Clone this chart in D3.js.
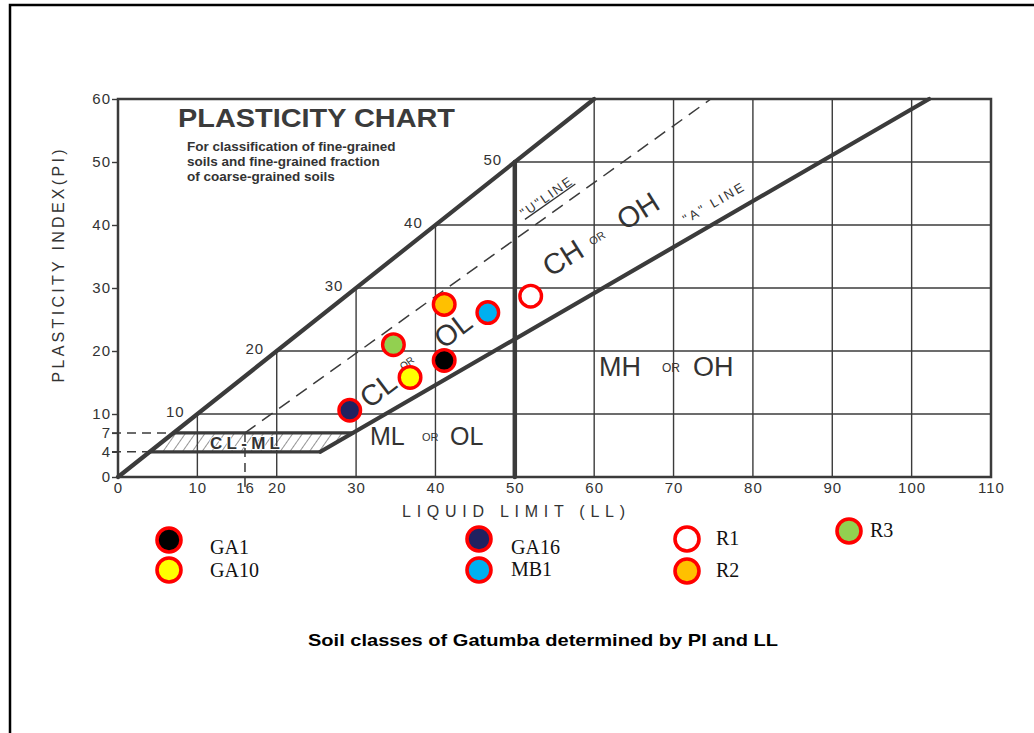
<!DOCTYPE html>
<html>
<head>
<meta charset="utf-8">
<script src="https://cdn.jsdelivr.net/npm/d3@7"></script>
<style>
  body { margin: 0; background: #fff; }
  svg { display: block; }
</style>
</head>
<body>
<svg id="chart" width="1034" height="733"></svg>
<script>
// ---- data ----
const samples = ["GA1", "GA10", "GA16", "MB1", "R1", "R2", "R3"];
const liquidLimit = [41.1, 36.8, 29.2, 46.6, 52.0, 41.1, 34.7];
const plasticityIndex = [18.5, 15.8, 10.6, 26.1, 28.7, 27.4, 21.0];
const sampleFill = ["#000000", "#ffff00", "#212160", "#00b0f0", "#ffffff", "#ffc000", "#92d050"];

const xTicks = [0, 10, 16, 20, 30, 40, 50, 60, 70, 80, 90, 100, 110];
const yTicks = [0, 4, 7, 10, 20, 30, 40, 50, 60];
const gridLL = [10, 20, 30, 40, 50, 60, 70, 80, 90, 100];
const gridPI = [10, 20, 30, 40, 50];
const upperLineMarks = [10, 20, 30, 40, 50];

// classification boundaries (LL, PI)
const upperLine = [[0, 0], [60, 60]];
const aLine = [[25.5, 4], [102.2, 60]];
const uLine = [[16, 7], [74.7, 60]];
const lowLimitLine = [[4, 4], [25.5, 4]];
const clmlTopLine = [[7, 7], [29.6, 7]];
const llDivide = [[50, 0], [50, 50]];
const clmlZone = [[4, 4], [25.5, 4], [29.6, 7], [7, 7]];

// ---- drawing ----
const svg = d3.select("#chart");
const ink = "#3b3b3b";
const textInk = "#333";
const sans = "'Liberation Sans', Arial, sans-serif";

const x = d3.scaleLinear().domain([0, 110]).range([118, 991]);
const y = d3.scaleLinear().domain([0, 60]).range([477, 99]);
const line = d3.line().x(d => x(d[0])).y(d => y(d[1]));

// page frame
svg.append("path")
  .attr("d", "M10,733 L10,5 L1034,5")
  .attr("fill", "none").attr("stroke", "#000").attr("stroke-width", 2.5);

// hatch pattern for the CL-ML band
const defs = svg.append("defs");
defs.append("pattern")
  .attr("id", "hatch").attr("patternUnits", "userSpaceOnUse")
  .attr("width", 8).attr("height", 8)
  .attr("patternTransform", "rotate(35)")
  .append("line").attr("x1", 0).attr("y1", 0).attr("x2", 0).attr("y2", 8)
  .attr("stroke", ink).attr("stroke-width", 1.1);

// grid below the PI = LL limit
const grid = svg.append("g");
grid.selectAll("line.gv").data(gridLL).join("line").attr("class", "gv")
  .attr("x1", d => x(d)).attr("x2", d => x(d))
  .attr("y1", y(0)).attr("y2", d => y(Math.min(d, 60)))
  .attr("stroke", ink).attr("stroke-width", 1.4);
grid.selectAll("line.gh").data(gridPI).join("line").attr("class", "gh")
  .attr("x1", d => x(d)).attr("x2", x(110))
  .attr("y1", d => y(d)).attr("y2", d => y(d))
  .attr("stroke", ink).attr("stroke-width", 1.4);

// plot border
svg.append("rect")
  .attr("x", x(0)).attr("y", y(60))
  .attr("width", x(110) - x(0)).attr("height", y(0) - y(60))
  .attr("fill", "none").attr("stroke", ink).attr("stroke-width", 2.5);

// CL-ML zone
svg.append("path").attr("d", line(clmlZone) + "Z").attr("fill", "url(#hatch)");

// dashed guides at PI 4 and 7, and at LL 16
[4, 7].forEach(v => {
  svg.append("line")
    .attr("x1", x(0) - 6).attr("x2", x(v))
    .attr("y1", y(v)).attr("y2", y(v))
    .attr("stroke", ink).attr("stroke-width", 1.5).attr("stroke-dasharray", "9,6");
});
svg.append("line")
  .attr("x1", x(16)).attr("x2", x(16)).attr("y1", y(0) + 10).attr("y2", y(7))
  .attr("stroke", ink).attr("stroke-width", 1.5).attr("stroke-dasharray", "9,6");

// U line
svg.append("path").attr("d", line(uLine))
  .attr("fill", "none").attr("stroke", ink).attr("stroke-width", 1.5)
  .attr("stroke-dasharray", "13,8");

// heavy boundaries
[[upperLine, 4.2], [aLine, 4.2], [llDivide, 4.5], [lowLimitLine, 3.2], [clmlTopLine, 3.2]]
  .forEach(([pts, w]) => {
    svg.append("path").attr("d", line(pts))
      .attr("fill", "none").attr("stroke", ink).attr("stroke-width", w)
      .attr("stroke-linecap", "round");
  });

// axes
const xAxisG = svg.append("g")
  .attr("transform", `translate(0,${y(0)})`)
  .call(d3.axisBottom(x).tickValues(xTicks).tickSize(0).tickPadding(5));
xAxisG.select(".domain").remove();
xAxisG.attr("font-family", sans).attr("font-size", 15).attr("color", textInk)
  .attr("letter-spacing", 1);

const yAxisG = svg.append("g")
  .attr("transform", `translate(${x(0)},0)`)
  .call(d3.axisLeft(y).tickValues(yTicks).tickSize(6).tickPadding(1));
yAxisG.select(".domain").remove();
yAxisG.attr("font-family", sans).attr("font-size", 15).attr("color", textInk)
  .attr("letter-spacing", 1);
yAxisG.selectAll(".tick line").attr("stroke", ink).attr("stroke-width", 1.4);

// values along the PI = LL limit
svg.append("g").selectAll("text").data(upperLineMarks).join("text")
  .attr("x", d => x(d) - 22).attr("y", d => y(d) - 3)
  .attr("text-anchor", "middle").attr("dominant-baseline", "central")
  .attr("font-family", sans).attr("font-size", 15).attr("letter-spacing", 1)
  .attr("fill", textInk)
  .text(d => d);

// axis titles
svg.append("text")
  .attr("transform", "translate(58,266) rotate(-90)")
  .attr("text-anchor", "middle").attr("dominant-baseline", "central")
  .attr("font-family", sans).attr("font-size", 16).attr("fill", textInk)
  .attr("textLength", 233).attr("lengthAdjust", "spacing")
  .text("PLASTICITY INDEX(PI)");
svg.append("text")
  .attr("x", 402).attr("y", 517)
  .attr("font-family", sans).attr("font-size", 16).attr("fill", textInk)
  .attr("textLength", 223).attr("lengthAdjust", "spacing")
  .text("LIQUID LIMIT (LL)");

// chart heading
svg.append("text")
  .attr("x", 178).attr("y", 127)
  .attr("font-family", sans).attr("font-size", 25).attr("font-weight", "bold")
  .attr("fill", ink).attr("textLength", 277).attr("lengthAdjust", "spacingAndGlyphs")
  .text("PLASTICITY CHART");
["For classification of fine-grained", "soils and fine-grained fraction", "of coarse-grained soils"]
  .forEach((t, i) => {
    svg.append("text")
      .attr("x", 187).attr("y", 151 + i * 15)
      .attr("font-family", sans).attr("font-size", 13.5).attr("font-weight", "bold")
      .attr("fill", textInk).text(t);
  });

// zone labels
function tag(px, py, angle, txt, size, anchor) {
  svg.append("text")
    .attr("transform", `translate(${px},${py}) rotate(${angle})`)
    .attr("text-anchor", anchor || "middle").attr("dominant-baseline", "central")
    .attr("font-family", sans).attr("font-size", size).attr("fill", textInk)
    .text(txt);
}
tag(378, 390, -37, "CL", 29);
tag(407, 363, -37, "OR", 10);
tag(453, 330, -37, "OL", 29);

tag(563, 258, -32, "CH", 29);
tag(597, 238, -32, "OR", 11);
tag(638, 211, -32, "OH", 29);

tag(599, 367, 0, "MH", 27, "start");
tag(662, 368, 0, "OR", 12, "start");
tag(693, 367, 0, "OH", 27, "start");

tag(370, 436, 0, "ML", 25, "start");
tag(422, 437, 0, "OR", 11, "start");
tag(450, 436, 0, "OL", 25, "start");

svg.append("text")
  .attr("transform", "translate(524,218) rotate(-35)")
  .attr("font-family", sans).attr("font-size", 13).attr("fill", textInk)
  .attr("text-decoration", "underline").attr("letter-spacing", 2)
  .text("\"U\"LINE");
svg.append("text")
  .attr("transform", "translate(686,224) rotate(-30)")
  .attr("font-family", sans).attr("font-size", 13).attr("fill", textInk)
  .attr("letter-spacing", 2.5)
  .text("\"A\" LINE");

svg.append("text")
  .attr("x", 245).attr("y", 449).attr("text-anchor", "middle")
  .attr("font-family", sans).attr("font-size", 17).attr("font-weight", "bold")
  .attr("fill", textInk).attr("textLength", 70).attr("lengthAdjust", "spacing")
  .attr("stroke", "#fff").attr("stroke-width", 2).attr("paint-order", "stroke")
  .text("CL-ML");

// sample points
const points = samples.map((s, i) => ({ name: s, ll: liquidLimit[i], pi: plasticityIndex[i], fill: sampleFill[i] }));
svg.append("g").selectAll("circle").data(points).join("circle")
  .attr("cx", d => x(d.ll)).attr("cy", d => y(d.pi)).attr("r", 10.8)
  .attr("fill", d => d.fill).attr("stroke", "#ff0000").attr("stroke-width", 3.4);

// legend
const legendSpots = {
  GA1:  { cx: 169, cy: 540, tx: 210, ty: 554 },
  GA10: { cx: 169, cy: 570, tx: 210, ty: 577 },
  GA16: { cx: 479, cy: 539, tx: 511, ty: 554 },
  MB1:  { cx: 479, cy: 570, tx: 511, ty: 576 },
  R1:   { cx: 687, cy: 539, tx: 716, ty: 545 },
  R2:   { cx: 687, cy: 571, tx: 716, ty: 577 },
  R3:   { cx: 849, cy: 531, tx: 870, ty: 537 }
};
const legend = svg.append("g");
legend.selectAll("circle").data(points).join("circle")
  .attr("cx", d => legendSpots[d.name].cx).attr("cy", d => legendSpots[d.name].cy)
  .attr("r", 12).attr("fill", d => d.fill)
  .attr("stroke", "#ff0000").attr("stroke-width", 3.6);
legend.selectAll("text").data(points).join("text")
  .attr("x", d => legendSpots[d.name].tx).attr("y", d => legendSpots[d.name].ty)
  .attr("font-family", "'Liberation Serif', 'Times New Roman', serif")
  .attr("font-size", 20).attr("fill", "#111")
  .text(d => d.name);

// caption
svg.append("text")
  .attr("x", 308).attr("y", 646)
  .attr("font-family", sans).attr("font-size", 17).attr("font-weight", "bold")
  .attr("fill", "#000").attr("textLength", 470).attr("lengthAdjust", "spacingAndGlyphs")
  .text("Soil classes of Gatumba determined by PI and LL");
</script>
</body>
</html>
